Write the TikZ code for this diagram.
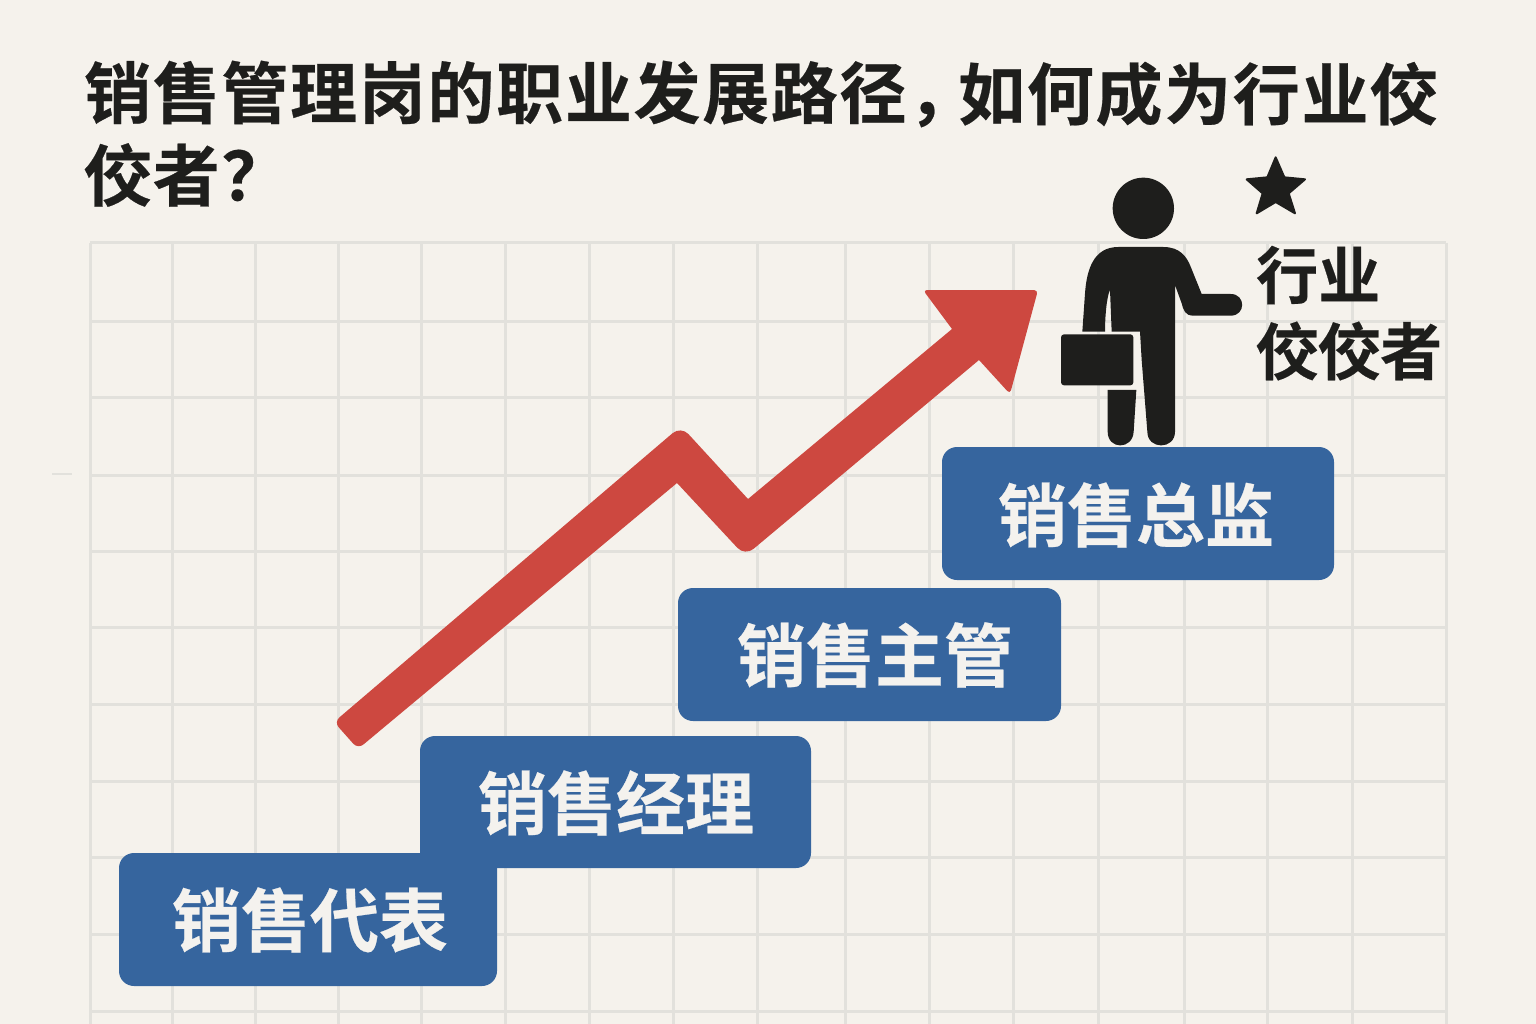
\documentclass[tikz,border=0pt]{standalone}
\usepackage{fontspec}
\setmainfont{Noto Sans CJK SC}[BoldFont={* Bold}]
\newfontfamily\cjkb[LetterSpace=2.5,FakeBold=0.35]{Noto Sans CJK SC Bold}
\newfontfamily\cjkc[FakeBold=0.35]{Noto Sans CJK SC Bold}
\definecolor{paper}{HTML}{F5F2EC}
\definecolor{gridc}{HTML}{E2E1DC}
\definecolor{ink}{HTML}{1E1E1C}
\definecolor{stepc}{HTML}{36659E}
\definecolor{arrowc}{HTML}{CD4840}
\definecolor{steptext}{HTML}{F4F2EE}
\tikzset{
  stepbox/.style={fill=stepc,rounded corners=15pt},
  steplabel/.style={text=steptext,font=\fontsize{69}{69}\cjkc,anchor=center,inner sep=0pt},
  titleline/.style={text=ink,font=\fontsize{67}{67}\cjkb,anchor=west,inner sep=0pt},
  sidelabel/.style={text=ink,font=\fontsize{62}{62}\cjkc,anchor=west,inner sep=0pt},
  gridline/.style={draw=gridc,line width=3pt},
}
\begin{document}
\begin{tikzpicture}[x=1pt,y=-1pt]
\useasboundingbox (0,0) rectangle (1536,1024);
\fill[paper] (0,0) rectangle (1536,1024);
% grid
\foreach \gx in {90,172,255,338,421,505,589,673,757,845,929,1013,1098,1184,1267,1352,1446}
  \draw[gridline] (\gx,243) -- (\gx,1024);
\foreach \gy in {243,321,397,475,551,627,704,781,857,934,1011}
  \draw[gridline] (90,\gy) -- (1446,\gy);
\draw[gridc,line width=2pt] (52,474) -- (72,474);
% steps
\path[stepbox] (420,736) rectangle (811,868);
\path[stepbox] (119,853) rectangle (497,986);
\path[stepbox] (678,588) rectangle (1061,721);
\path[stepbox] (942,447) rectangle (1334,580);
\node[steplabel] (rep) at (310,920) {销售代表};
\node[steplabel] (mgr) at (616,803) {销售经理};
\node[steplabel] (sup) at (875,655) {销售主管};
\node[steplabel] (dir) at (1136,515) {销售总监};
% arrow
\fill[arrowc] (500,580.4) [rounded corners=11pt] -- (681,426) [sharp corners] -- (748,499) -- (952,329) [rounded corners=4pt] -- (923,290) -- (1038,290) -- (1010,394) [sharp corners] -- (979,360) [rounded corners=11pt] -- (745,556) [sharp corners] -- (677,483) [rounded corners=7pt] -- (358,749) -- (334,722) [sharp corners] -- cycle;
% person
\begin{scope}[shift={(1040,150)},x=0.33333pt,y=-0.33333pt]
\fill[ink] (310,175) circle [radius=92pt*0.33333];
\fill[ink] (235,291) -- (370,291) .. controls (420,291) and (440,320) .. (452,350) -- (485,432) -- (572,432) .. controls (618,432) and (618,497) .. (572,497) -- (460,497) .. controls (435,497) and (430,480) .. (425,460) -- (405,405) -- (405,845) .. controls (405,900) and (322,900) .. (322,845) -- (305,630) -- (300,545) -- (215,545) -- (210,420) .. controls (200,440) and (195,500) .. (195,545) -- (127,545) -- (135,430) .. controls (140,360) and (160,291) .. (235,291) -- cycle;
\fill[ink] (203,720) -- (289,720) -- (281,845) .. controls (278,900) and (203,900) .. (203,845) -- cycle;
\fill[ink,rounded corners=3pt] (63,553) rectangle (280,706);
\draw[ink,fill=ink,line width=2pt,line join=round] (707,22) -- (733,82) -- (795,88) -- (746,130) -- (765,190) -- (707,156) -- (650,190) -- (668,130) -- (620,88) -- (682,82) -- cycle;
\end{scope}
% text
\node[sidelabel] (l1) at (1256,275) {行业};
\node[sidelabel] (l2) at (1256,351) {佼佼者};
\node[titleline] (t1a) at (84,94) {销售管理岗的职业发展路径，};
\node[titleline] (t1b) at (958,94) {如何成为行业佼};
\node[titleline] (t2) at (84,175) {佼者？};
\end{tikzpicture}
\end{document}
